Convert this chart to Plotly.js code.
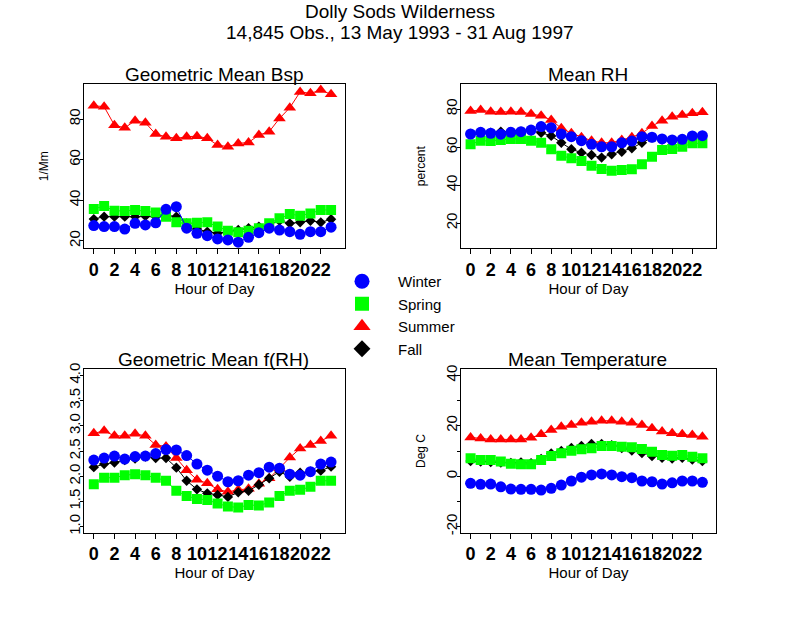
<!DOCTYPE html>
<html>
<head>
<meta charset="utf-8">
<script src="https://cdn.plot.ly/plotly-3.0.1.min.js"></script>
<style>html,body{margin:0;padding:0;background:#fff;}#chart{width:800px;height:617px;}</style>
</head>
<body>
<div id="chart"></div>
<script>
// ---- data ----
const hours = [0,1,2,3,4,5,6,7,8,9,10,11,12,13,14,15,16,17,18,19,20,21,22,23];
const hourTicks = [0,2,4,6,8,10,12,14,16,18,20,22];
const seasons = ['Winter','Spring','Summer','Fall'];

const bspWinter = [27.5,27.0,27.0,25.8,28.6,27.8,28.9,35.5,36.8,26.2,23.7,22.5,20.9,20.4,19.3,21.7,24.0,26.2,25.3,24.5,23.2,24.5,24.5,26.7];
const bspSpring = [35.7,37.1,34.8,34.7,35.2,34.7,33.9,31.9,29.1,28.6,28.9,29.1,27.0,25.0,24.2,25.0,26.2,28.6,31.1,33.2,32.4,33.5,35.2,35.2];
const bspSummer = [86.6,86.1,77.0,75.7,79.2,78.2,72.6,71.3,70.5,71.3,71.6,70.5,67.2,66.4,68.0,68.5,72.1,73.8,80.3,85.6,93.4,92.7,94.3,92.2];
const bspFall   = [30.7,31.9,31.9,31.9,31.9,32.2,31.9,32.7,31.9,28.6,25.8,24.5,23.7,24.5,25.3,26.2,27.0,27.8,29.9,28.6,29.1,29.9,29.1,30.6];

const rhWinter = [66.9,67.8,67.3,66.8,67.8,68.1,69.0,70.8,70.2,66.9,65.5,63.4,61.5,60.2,60.2,62.3,63.2,65.5,65.2,64.3,63.8,64.1,65.9,66.0];
const rhSpring = [61.5,63.4,63.2,63.8,64.3,64.3,63.4,62.3,58.9,55.5,54.1,52.7,50.2,48.5,47.6,48.0,48.4,51.0,55.0,58.5,59.0,60.2,62.0,62.0];
const rhSummer = [79.0,79.5,78.6,78.5,78.6,78.5,77.4,76.5,74.3,69.9,67.3,65.2,63.4,62.3,62.3,63.8,65.2,67.3,71.1,73.9,76.0,76.9,77.8,78.3];
const rhFall   = [66.9,67.6,67.6,68.1,67.8,68.1,68.6,67.6,65.9,62.3,58.9,57.1,55.9,54.5,56.2,57.6,59.4,62.3,65.0,64.0,63.5,63.8,65.5,65.8];

const frhWinter = [2.32,2.36,2.40,2.34,2.39,2.40,2.45,2.53,2.52,2.41,2.24,2.12,2.00,1.89,1.91,2.02,2.07,2.18,2.16,2.04,2.02,2.09,2.24,2.28];
const frhSpring = [1.84,1.97,1.97,2.02,2.04,2.02,1.97,1.91,1.71,1.61,1.55,1.53,1.46,1.40,1.38,1.43,1.42,1.48,1.61,1.71,1.73,1.79,1.91,1.91];
const frhSummer = [2.85,2.90,2.80,2.80,2.84,2.80,2.62,2.59,2.36,2.12,1.93,1.86,1.74,1.69,1.73,1.75,1.85,1.96,2.16,2.37,2.55,2.62,2.70,2.80];
const frhFall   = [2.18,2.24,2.27,2.32,2.35,2.39,2.36,2.36,2.17,1.91,1.74,1.66,1.63,1.59,1.68,1.71,1.83,1.96,2.09,1.99,2.07,2.09,2.11,2.19];

const tempWinter = [-2.8,-3.2,-3.1,-4.2,-5.1,-5.2,-5.2,-5.5,-4.8,-3.5,-1.9,-0.4,0.5,0.9,0.5,-0.2,-0.6,-1.9,-2.2,-3.1,-2.6,-1.9,-1.9,-2.4];
const tempSpring = [7.1,6.4,6.4,5.8,4.9,4.7,4.7,6.4,8.0,9.1,10.1,10.7,11.1,12.0,12.0,11.7,11.5,10.8,9.7,8.4,8.1,8.4,7.7,7.1];
const tempSummer = [15.4,15.0,14.6,14.6,14.6,14.6,15.3,16.6,18.3,19.6,20.3,21.2,21.6,22.0,22.0,21.6,21.2,20.3,19.0,17.7,17.0,16.6,16.3,15.7];
const tempFall   = [6.0,5.8,5.6,5.4,5.3,5.5,5.2,6.8,9.0,10.0,11.2,12.0,12.8,12.8,12.3,11.2,10.2,9.2,8.0,7.3,7.0,7.3,6.6,6.0];

const panelTitles = ['Geometric Mean Bsp','Mean RH','Geometric Mean f(RH)','Mean Temperature'];
const yTitles = ['1/Mm','percent','','Deg C'];
const frhTickVals = [1.0,1.5,2.0,2.5,3.0,3.5,4.0];
const tempTickVals = [-20,-10,0,10,20,30,40];
const tempTickText = ['-20','','0','','20','','40'];

// ---- styles ----
const FONT = 'Liberation Sans, Arial, sans-serif';
const style = {
  Winter: {color:'#0000ff', symbol:'circle', size:11, lsize:15},
  Spring: {color:'#00ff00', symbol:'square', size:10, lsize:14},
  Summer: {color:'#ff0000', symbol:'triangle-up', size:11, lsize:15},
  Fall:   {color:'#000000', symbol:'diamond', size:8, lsize:13}
};
const panels = [
  {ax:'', data:{Winter:bspWinter,Spring:bspSpring,Summer:bspSummer,Fall:bspFall}},
  {ax:'2', data:{Winter:rhWinter,Spring:rhSpring,Summer:rhSummer,Fall:rhFall}},
  {ax:'3', data:{Winter:frhWinter,Spring:frhSpring,Summer:frhSummer,Fall:frhFall}},
  {ax:'4', data:{Winter:tempWinter,Spring:tempSpring,Summer:tempSummer,Fall:tempFall}}
];
const drawOrder = ['Summer','Fall','Spring','Winter'];

const traces = [];
panels.forEach(p => {
  drawOrder.forEach(s => {
    const st = style[s];
    traces.push({
      type:'scatter', mode:'lines+markers', x:hours, y:p.data[s],
      xaxis:'x'+p.ax, yaxis:'y'+p.ax, showlegend:false, name:s,
      line:{color:st.color, width:1},
      marker:{color:st.color, symbol:st.symbol, size:st.size}
    });
  });
});
seasons.forEach((s,i) => {
  const st = style[s];
  traces.push({
    type:'scatter', mode:'markers', x:[null], y:[null], name:s, showlegend:true,
    legendrank:i+1, xaxis:'x', yaxis:'y',
    marker:{color:st.color, symbol:st.symbol, size:st.lsize}
  });
});

const W = 800, H = 617;
const xdomL = [84/W, 345/W], xdomR = [461/W, 716/W];
const ydomT = [1-248.3/H, 1-84/H], ydomB = [1-532.7/H, 1-369.3/H];

function xaxisDef(domain, anchor){
  return {
    domain:domain, anchor:anchor, range:[-0.95,24.35],
    tickmode:'array', tickvals:hourTicks, ticktext:hourTicks.map(String), tickangle:0,
    ticks:'outside', ticklen:5, tickcolor:'#000', tickwidth:1,
    showline:true, mirror:true, linecolor:'#000', linewidth:1,
    showgrid:false, zeroline:false,
    tickfont:{family:FONT, size:18, weight:'bold', color:'#000'},
    title:{text:'Hour of Day', font:{family:FONT, size:15, color:'#000'}, standoff:0}
  };
}
function yaxisDef(domain, anchor, range, tickvals, ticktext, title){
  return {
    domain:domain, anchor:anchor, range:range,
    tickmode:'array', tickvals:tickvals, ticktext:ticktext, tickangle:-90,
    ticks:'outside', ticklen:3, tickcolor:'#000', tickwidth:1,
    showline:true, mirror:true, linecolor:'#000', linewidth:1,
    showgrid:false, zeroline:false, ticklabelstandoff:-6,
    tickfont:{family:FONT, size:15, color:'#000'},
    title:{text:title, font:{family:FONT, size:12, color:'#000'}, standoff:14}
  };
}

const annotations = [];
const doms = [[xdomL,ydomT],[xdomR,ydomT],[xdomL,ydomB],[xdomR,ydomB]];
panelTitles.forEach((t,i) => {
  const [xd,yd] = doms[i];
  annotations.push({text:t, xref:'paper', yref:'paper', x:(xd[0]+xd[1])/2 - 1/W, y:yd[1]+10/H,
    xanchor:'center', yanchor:'middle', showarrow:false,
    font:{family:FONT, size:19, color:'#000'}});
});
annotations.push({text:'14,845 Obs., 13 May 1993 - 31 Aug 1997', xref:'paper', yref:'paper',
  x:0.5, y:1-32.5/H, xanchor:'center', yanchor:'middle', showarrow:false,
  font:{family:FONT, size:19, color:'#000'}});

const layout = {
  width:W, height:H, margin:{l:0,r:0,t:0,b:0},
  paper_bgcolor:'#fff', plot_bgcolor:'#fff',
  font:{family:FONT, color:'#000'},
  title:{text:'Dolly Sods Wilderness', font:{family:FONT, size:19, color:'#000'},
    x:0.5, xanchor:'center', xref:'paper', y:1-11.5/H, yanchor:'middle', yref:'container'},
  showlegend:true,
  legend:{x:326/W, y:1-315/H, xanchor:'left', yanchor:'middle', bgcolor:'rgba(0,0,0,0)',
    font:{family:FONT, size:15, color:'#000'}, itemwidth:62, tracegroupgap:0},
  xaxis: xaxisDef(xdomL,'y'),
  yaxis: yaxisDef(ydomT,'x',[16.3,97.3],[20,40,60,80],['20','40','60','80'],yTitles[0]),
  xaxis2: xaxisDef(xdomR,'y2'),
  yaxis2: yaxisDef(ydomT,'x2',[6.8,93.2],[20,40,60,80],['20','40','60','80'],yTitles[1]),
  xaxis3: xaxisDef(xdomL,'y3'),
  yaxis3: yaxisDef(ydomB,'x3',[0.88,4.12],frhTickVals,frhTickVals.map(v=>v.toFixed(1)),yTitles[2]),
  xaxis4: xaxisDef(xdomR,'y4'),
  yaxis4: yaxisDef(ydomB,'x4',[-22.4,42.4],tempTickVals,tempTickText,yTitles[3]),
  annotations:annotations
};

Plotly.newPlot('chart', traces, layout, {staticPlot:true, displayModeBar:false});
</script>
</body>
</html>
